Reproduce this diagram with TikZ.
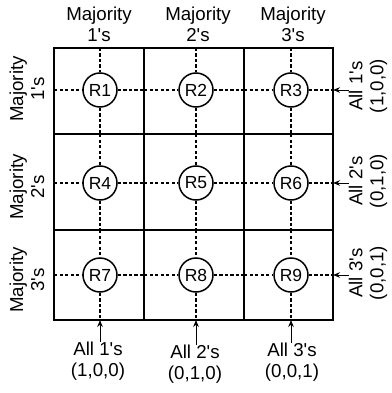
\documentclass[tikz,border=0pt]{standalone}
\usepackage{fontspec}
\setmainfont{Liberation Sans}
\usetikzlibrary{arrows.meta,positioning}

\newcommand{\aps}{\textquotesingle}

\tikzset{
  gridline/.style={line width=2.4pt,line cap=rect},
  rnode/.style={circle,draw,line width=1.5pt,minimum size=34pt,inner sep=0pt,
    font=\fontsize{17.5}{20}\selectfont},
  wire/.style={line width=1.4pt,dash pattern=on 3.3pt off 2.2pt},
  lab/.style={align=center,inner sep=0pt,font=\fontsize{18.7}{21}\selectfont},
  feed/.style={line width=0.9pt,-{Stealth[length=7pt,width=5.5pt]}}
}

\begin{document}
\begin{tikzpicture}[x=1pt,y=-1pt]
\useasboundingbox (0,0) rectangle (391,393);

% outer frame and cell borders
\draw[gridline] (54,48) rectangle (333,320);
\foreach \x in {144,244}
  \draw[gridline] (\x,48) -- (\x,320);
\foreach \y in {134,230}
  \draw[gridline] (54,\y) -- (333,\y);

% R nodes with their dashed lines to the cell borders
\foreach \n/\x/\y/\xl/\xr/\yt/\yb in {
    1/100/90/54/144/48/134, 2/196/90/144/244/48/134, 3/291/90/244/333/48/134,
    4/100/183/54/144/134/230, 5/196/183/144/244/134/230, 6/291/183/244/333/134/230,
    7/100/275/54/144/230/320, 8/196/275/144/244/230/320, 9/291/275/244/333/230/320}{
  \node[rnode] (R\n) at (\x,\y) {R\n};
  \coordinate (w\n) at (\xl,\y);
  \coordinate (e\n) at (\xr,\y);
  \coordinate (n\n) at (\x,\yt);
  \coordinate (s\n) at (\x,\yb);
  \draw[wire] (w\n) -- (R\n.west);
  \draw[wire] (R\n.east) -- (e\n);
  \draw[wire] (n\n) -- (R\n.north);
  \draw[wire] (R\n.south) -- (s\n);
}

% column titles
\node[lab] (top1) at (99,24) {Majority\\1\aps s};
\node[lab] (top2) at (198,24) {Majority\\2\aps s};
\node[lab] (top3) at (293,24) {Majority\\3\aps s};

% row titles
\node[lab,rotate=90] (side1) at (27,89) {Majority\\1\aps s};
\node[lab,rotate=90] (side2) at (27,187) {Majority\\2\aps s};
\node[lab,rotate=90] (side3) at (27,280) {Majority\\3\aps s};

% inputs on the right
\node[lab,rotate=90] (in1) at (368,86) {All 1\aps s\\(1,0,0)};
\node[lab,rotate=90] (in2) at (368,181) {All 2\aps s\\(0,1,0)};
\node[lab,rotate=90] (in3) at (368,273) {All 3\aps s\\(0,0,1)};
\draw[feed] (in1.north |- e3) -- (e3);
\draw[feed] (in2.north |- e6) -- (e6);
\draw[feed] (in3.north |- e9) -- (e9);

% inputs at the bottom
\node[lab] (bot1) at (98,361) {All 1\aps s\\(1,0,0)};
\node[lab] (bot2) at (195,364) {All 2\aps s\\(0,1,0)};
\node[lab] (bot3) at (292,362) {All 3\aps s\\(0,0,1)};
\draw[feed] (bot1.north -| s7) -- (s7);
\draw[feed] (bot2.north -| s8) -- (s8);
\draw[feed] (bot3.north -| s9) -- (s9);
\end{tikzpicture}
\end{document}
